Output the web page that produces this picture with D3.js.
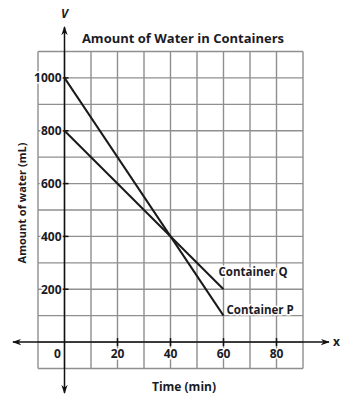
<!DOCTYPE html>
<html><head><meta charset="utf-8">
<script src="https://cdn.jsdelivr.net/npm/d3@7"></script>
<style>
html,body{margin:0;padding:0;background:#fff;}
text{font-family:"Open Sans",Lato,sans-serif;font-weight:700;fill:#1b1b26;}
</style></head>
<body><svg id="c" width="362" height="396"></svg>
<script>
const title = "Amount of Water in Containers";
const xLabel = "Time (min)";
const yLabel = "Amount of water (mL)";
const time = [0, 60];
const containerP = [1000, 100];
const containerQ = [800, 200];
const seriesNames = ["Container P", "Container Q"];
const xTicks = [20, 40, 60, 80];
const yTicks = [200, 400, 600, 800, 1000];

const svg = d3.select("#c");
const x = d3.scaleLinear().domain([-10, 90]).range([38, 303]);
const y = d3.scaleLinear().domain([-100, 1100]).range([368.5, 51.5]);

// grid
const g = svg.append("g");
g.selectAll("line.v").data(d3.range(-10, 91, 10)).join("line")
  .attr("x1", d => x(d)).attr("x2", d => x(d)).attr("y1", y(1100)).attr("y2", y(-100))
  .attr("stroke", "#8f8f8f").attr("stroke-width", 1.4);
g.selectAll("line.h").data(d3.range(-100, 1101, 100)).join("line")
  .attr("y1", d => y(d)).attr("y2", d => y(d)).attr("x1", x(-10)).attr("x2", x(90))
  .attr("stroke", "#8f8f8f").attr("stroke-width", 1.4);

// arrow markers
const defs = svg.append("defs");
defs.append("marker").attr("id", "arr").attr("viewBox", "0 0 10 10")
  .attr("refX", 9).attr("refY", 5).attr("markerWidth", 9).attr("markerHeight", 9)
  .attr("markerUnits", "userSpaceOnUse").attr("orient", "auto-start-reverse")
  .append("path").attr("d", "M0,1.5 L10,5 L0,8.5 L3,5 Z").attr("fill", "#111");

// axes
svg.append("line").attr("x1", 13).attr("x2", 329).attr("y1", y(0)).attr("y2", y(0))
  .attr("stroke", "#111").attr("stroke-width", 1.5)
  .attr("marker-start", "url(#arr)").attr("marker-end", "url(#arr)");
svg.append("line").attr("x1", x(0)).attr("x2", x(0)).attr("y1", 393).attr("y2", 27)
  .attr("stroke", "#111").attr("stroke-width", 1.5)
  .attr("marker-start", "url(#arr)").attr("marker-end", "url(#arr)");

// ticks
svg.selectAll("line.xt").data(xTicks).join("line")
  .attr("x1", d => x(d)).attr("x2", d => x(d)).attr("y1", y(0) - 4).attr("y2", y(0) + 4)
  .attr("stroke", "#111").attr("stroke-width", 1.5);
svg.selectAll("line.yt").data(yTicks).join("line")
  .attr("y1", d => y(d)).attr("y2", d => y(d)).attr("x1", x(0) - 4).attr("x2", x(0) + 4)
  .attr("stroke", "#111").attr("stroke-width", 1.5);

// tick labels
const halo = s => s.attr("stroke", "#fff").attr("stroke-width", 3).attr("paint-order", "stroke");
svg.selectAll("text.yl").data(yTicks).join("text")
  .attr("x", x(0) - 3).attr("y", d => y(d)).attr("dy", "0.36em")
  .attr("text-anchor", "end").attr("font-size", 12).text(d => d).call(halo);
svg.selectAll("text.xl").data(xTicks).join("text")
  .attr("x", d => x(d)).attr("y", y(0) + 16)
  .attr("text-anchor", "middle").attr("font-size", 12).text(d => d).call(halo);
svg.append("text").attr("x", x(0) - 7).attr("y", y(0) + 15.5)
  .attr("text-anchor", "middle").attr("font-size", 12).text("0").call(halo);

// axis letters
svg.append("text").attr("x", x(0)).attr("y", 18).attr("text-anchor", "middle")
  .attr("font-size", 12).attr("font-style", "italic").text("V");
svg.append("text").attr("x", 336.5).attr("y", y(0) + 4).attr("text-anchor", "middle")
  .attr("font-size", 12).text("x");

// data lines
const line = d3.line().x(d => x(d[0])).y(d => y(d[1]));
const series = [containerP, containerQ];
svg.selectAll("path.s").data(series).join("path")
  .attr("d", s => line(time.map((t, i) => [t, s[i]])))
  .attr("fill", "none").attr("stroke", "#1a1a1a").attr("stroke-width", 2);

// series labels
svg.append("text").attr("x", x(60) + 3).attr("y", y(containerP[1]) - 2)
  .attr("font-size", 11.5).text(seriesNames[0]).call(halo);
svg.append("text").attr("x", x(60) - 5).attr("y", y(containerQ[1]) - 13)
  .attr("font-size", 11.5).text(seriesNames[1]).call(halo);

// titles
svg.append("text").attr("x", 183).attr("y", 43).attr("text-anchor", "middle")
  .attr("font-size", 13).text(title);
svg.append("text").attr("x", 184).attr("y", 391).attr("text-anchor", "middle")
  .attr("font-size", 12).text(xLabel);
svg.append("text").attr("transform", "translate(26,203) rotate(-90)")
  .attr("text-anchor", "middle").attr("font-size", 11).text(yLabel);
</script></body></html>
